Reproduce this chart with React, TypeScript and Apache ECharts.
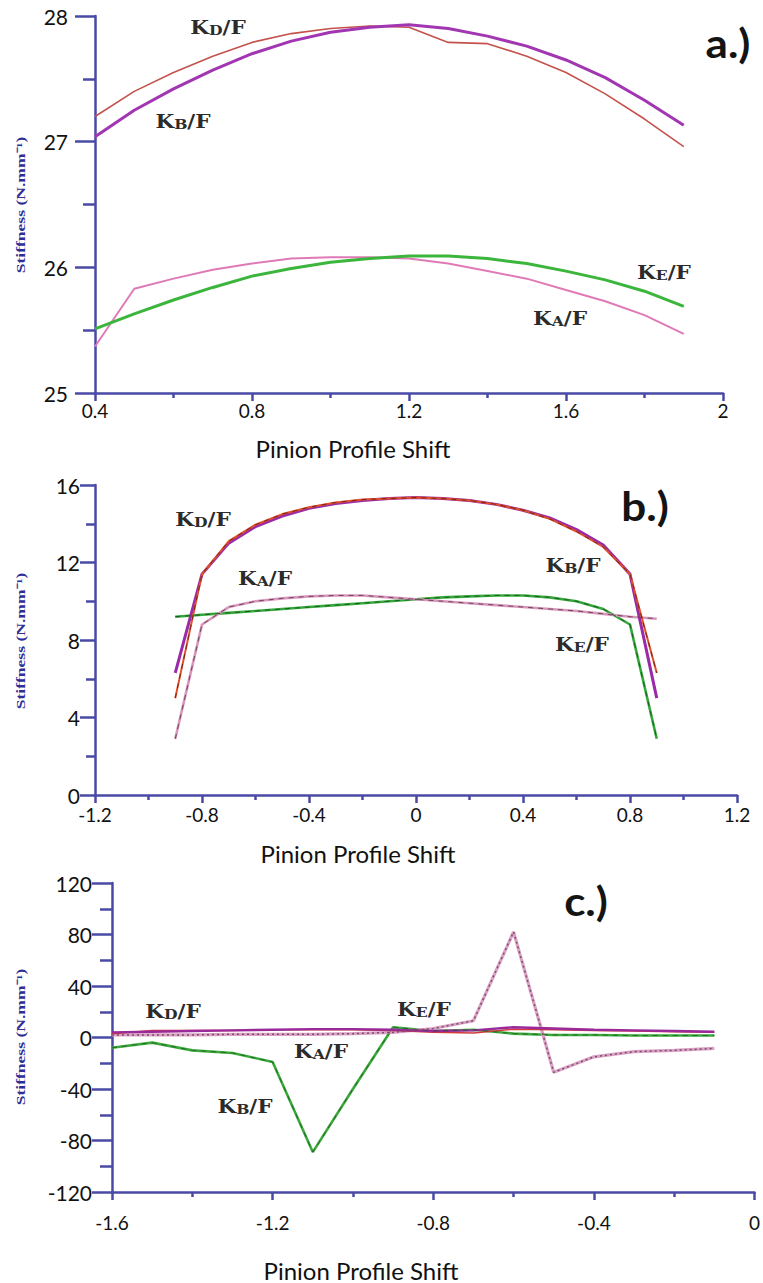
import React, { useEffect, useRef } from 'react';
import * as echarts from 'echarts';

// ---------- data ----------
// panel a
const aShift = [0.4, 0.5, 0.6, 0.7, 0.8, 0.9, 1.0, 1.1, 1.2, 1.3, 1.4, 1.5, 1.6, 1.7, 1.8, 1.9];
const aKD = [27.2, 27.4, 27.55, 27.68, 27.79, 27.86, 27.9, 27.92, 27.91, 27.79, 27.78, 27.68, 27.55, 27.38, 27.18, 26.96];
const aKB = [27.04, 27.25, 27.42, 27.57, 27.7, 27.8, 27.87, 27.91, 27.93, 27.9, 27.84, 27.76, 27.65, 27.51, 27.33, 27.13];
const aKA = [25.37, 25.83, 25.91, 25.98, 26.03, 26.07, 26.08, 26.08, 26.07, 26.03, 25.97, 25.91, 25.82, 25.73, 25.62, 25.47];
const aKE = [25.51, 25.63, 25.74, 25.84, 25.93, 25.99, 26.04, 26.07, 26.09, 26.09, 26.07, 26.03, 25.97, 25.9, 25.81, 25.69];

// panel b
const bShift = [-0.9, -0.8, -0.7, -0.6, -0.5, -0.4, -0.3, -0.2, -0.1, 0, 0.1, 0.2, 0.3, 0.4, 0.5, 0.6, 0.7, 0.8, 0.9];
const bKB = [6.3, 11.4, 13.0, 13.85, 14.4, 14.8, 15.05, 15.2, 15.3, 15.35, 15.3, 15.2, 15.0, 14.7, 14.3, 13.7, 12.9, 11.4, 5.0];
const bKD = [5.0, 11.4, 13.1, 13.95, 14.5, 14.85, 15.1, 15.25, 15.3, 15.35, 15.3, 15.2, 15.0, 14.7, 14.25, 13.6, 12.8, 11.4, 6.3];
const bKA = [2.9, 8.8, 9.7, 10.0, 10.15, 10.25, 10.3, 10.3, 10.2, 10.1, 10.0, 9.9, 9.8, 9.7, 9.6, 9.5, 9.35, 9.2, 9.1];
const bKE = [9.2, 9.3, 9.4, 9.5, 9.6, 9.7, 9.8, 9.9, 10.0, 10.1, 10.2, 10.25, 10.3, 10.3, 10.2, 10.0, 9.6, 8.8, 2.9];

// panel c
const cShift = [-1.6, -1.5, -1.4, -1.3, -1.2, -1.1, -1.0, -0.9, -0.8, -0.7, -0.6, -0.5, -0.4, -0.3, -0.2, -0.1];
const cKD = [4, 4.5, 5, 5.5, 6, 6.5, 6.5, 6, 5, 5.5, 8, 7, 6, 5.5, 5, 4.5];
const cKA = [3, 5.5, 5.5, 5.5, 6, 6, 6, 5.5, 4, 3.5, 6.5, 6, 5.5, 5, 4.5, 4];
const cKE = [2, 2, 2, 2.5, 2.5, 2.5, 3, 4, 7, 13, 82, -27, -15, -11, -10, -8.5];
const cKB = [-8, -4, -10, -12, -19, -89, -40, 8, 5, 6, 3, 2, 2, 1.5, 1.5, 1.5];

const axisName = 'Pinion Profile Shift';
const yTitle = 'Stiffness (N.mm\u207B\u00B9)';

// ---------- helpers ----------
const pairs = (xs: number[], ys: number[]) => xs.map((x, i) => [x, ys[i]]);
const axisColor = '#4a4aa6';

function xAx(gridIndex: number, min: number, max: number, margin: number) {
  return {
    type: 'value', gridIndex, min, max, interval: 0.4,
    axisLine: { show: true, onZero: false, lineStyle: { color: axisColor, width: 2.5 } },
    axisTick: { show: true, length: 8, lineStyle: { color: axisColor, width: 2.5 } },
    minorTick: { show: true, splitNumber: 2, length: 5, lineStyle: { color: axisColor, width: 2.5 } },
    splitLine: { show: false },
    minorSplitLine: { show: false },
    axisLabel: { color: '#111', fontFamily: 'Lato', fontSize: 19, margin, showMinLabel: true, showMaxLabel: true },
  };
}

function yAx(gridIndex: number, min: number, max: number, interval: number, margin: number, tickLen: number) {
  return {
    type: 'value', gridIndex, min, max, interval,
    axisLine: { show: true, onZero: false, lineStyle: { color: axisColor, width: 2.5 } },
    axisTick: { show: true, length: tickLen, lineStyle: { color: axisColor, width: 2.5 } },
    minorTick: { show: true, splitNumber: 2, length: Math.round(tickLen * 0.6), lineStyle: { color: axisColor, width: 2.5 } },
    splitLine: { show: false },
    minorSplitLine: { show: false },
    axisLabel: { color: '#111', fontFamily: 'Lato', fontSize: 21, margin, showMinLabel: true, showMaxLabel: true },
  };
}

function line(name: string, idx: number, xs: number[], ys: number[], color: string, width: number, type: any = 'solid', z = 2) {
  return {
    name, type: 'line', xAxisIndex: idx, yAxisIndex: idx,
    data: pairs(xs, ys), showSymbol: false, symbol: 'none', smooth: false, z,
    lineStyle: { color, width, type, cap: 'butt' },
    emphasis: { disabled: true },
  };
}

function kLabel(sub: string, x: number, y: number) {
  return {
    type: 'text', x, y, scaleX: 1.2,
    style: {
      text: `{k|K}{s|${sub}}{k|/F}`,
      align: 'center', verticalAlign: 'middle',
      rich: {
        k: { fontFamily: 'DejaVu Serif', fontWeight: 'bold', fontSize: 18, fill: '#2b2b2b' },
        s: { fontFamily: 'DejaVu Serif', fontWeight: 'bold', fontSize: 13, fill: '#2b2b2b', padding: [5, 0, 0, 0] },
      },
    },
  };
}

function panelTag(text: string, x: number, y: number) {
  return {
    type: 'text', x, y, scaleX: 1.1,
    style: { text, align: 'center', verticalAlign: 'middle', fontFamily: 'Lato', fontWeight: 'bold', fontSize: 40, fill: '#141414' },
  };
}

function xName(x: number, y: number) {
  return {
    type: 'text', x, y,
    style: { text: axisName, align: 'center', verticalAlign: 'middle', fontFamily: 'Lato', fontSize: 24, fill: '#111' },
  };
}

function yName(x: number, y: number) {
  return {
    type: 'text', x, y, rotation: Math.PI / 2, scaleX: 1.35,
    style: { text: yTitle, align: 'center', verticalAlign: 'middle', fontFamily: 'Liberation Serif', fontWeight: 'bold', fontSize: 13, fill: '#2e2e96' },
  };
}

export default function App() {
  const ref = useRef<HTMLDivElement>(null);
  useEffect(() => {
    if (!ref.current) return;
    const chart = echarts.init(ref.current, null, { renderer: 'svg' });
    const option: any = {
      animation: false,
      backgroundColor: '#ffffff',
      grid: [
        { left: 95, top: 16, width: 628, height: 377 },
        { left: 95, top: 485, width: 642, height: 310 },
        { left: 112, top: 883, width: 643, height: 309 },
      ],
      xAxis: [
        xAx(0, 0.4, 2.0, 8),
        xAx(1, -1.2, 1.2, 10),
        xAx(2, -1.6, 0, 21),
      ],
      yAxis: [
        yAx(0, 25, 28, 1, 27, 20),
        yAx(1, 0, 16, 4, 15, 15),
        yAx(2, -120, 120, 40, 20, 20),
      ],
      series: [
        // a
        line('KD/F', 0, aShift, aKD, '#c4524c', 1.6),
        line('KB/F', 0, aShift, aKB, '#a236b2', 3),
        line('KA/F', 0, aShift, aKA, '#e07ab6', 2),
        line('KE/F', 0, aShift, aKE, '#3cb53c', 3),
        // b
        line('KE/F', 1, bShift, bKE, '#34a83a', 2.6),
        line('KE/F dash', 1, bShift, bKE, '#1d5a22', 1, [5, 5], 3),
        line('KA/F', 1, bShift, bKA, '#d996bd', 2.6),
        line('KA/F dash', 1, bShift, bKA, '#6e4656', 1, [5, 5], 3),
        line('KB/F', 1, bShift, bKB, '#9a2aa8', 3),
        line('KD/F', 1, bShift, bKD, '#e2502a', 2),
        line('KD/F dash', 1, bShift, bKD, '#5a1a10', 0.8, [5, 5], 3),
        // c
        line('KB/F', 2, cShift, cKB, '#3aa83a', 2.6),
        line('KB/F dash', 2, cShift, cKB, '#1d5a22', 0.8, [5, 5], 3),
        line('KE/F', 2, cShift, cKE, '#dba0c6', 3.2),
        line('KE/F dot', 2, cShift, cKE, '#7d5064', 1.5, [2, 3], 3),
        line('KA/F', 2, cShift, cKA, '#d43a3a', 1.5),
        line('KD/F', 2, cShift, cKD, '#9a2a9a', 2.4),
      ],
      graphic: [
        panelTag('a.)', 728, 43),
        panelTag('b.)', 645, 506),
        panelTag('c.)', 586, 901),
        kLabel('D', 218, 28),
        kLabel('B', 183, 122),
        kLabel('E', 664, 273),
        kLabel('A', 560, 319),
        kLabel('D', 203, 520),
        kLabel('A', 265, 579),
        kLabel('B', 573, 566),
        kLabel('E', 582, 645),
        kLabel('D', 173, 1012),
        kLabel('A', 321, 1052),
        kLabel('E', 424, 1010),
        kLabel('B', 245, 1107),
        xName(353, 448),
        xName(358, 853),
        xName(361, 1270),
        yName(20, 205),
        yName(20, 641),
        yName(20, 1037),
      ],
    };
    chart.setOption(option);
    return () => chart.dispose();
  }, []);
  return (
    <div
      ref={ref}
      style={{ position: 'fixed', left: 0, top: 0, width: 763, height: 1283, background: '#fff' }}
    />
  );
}
